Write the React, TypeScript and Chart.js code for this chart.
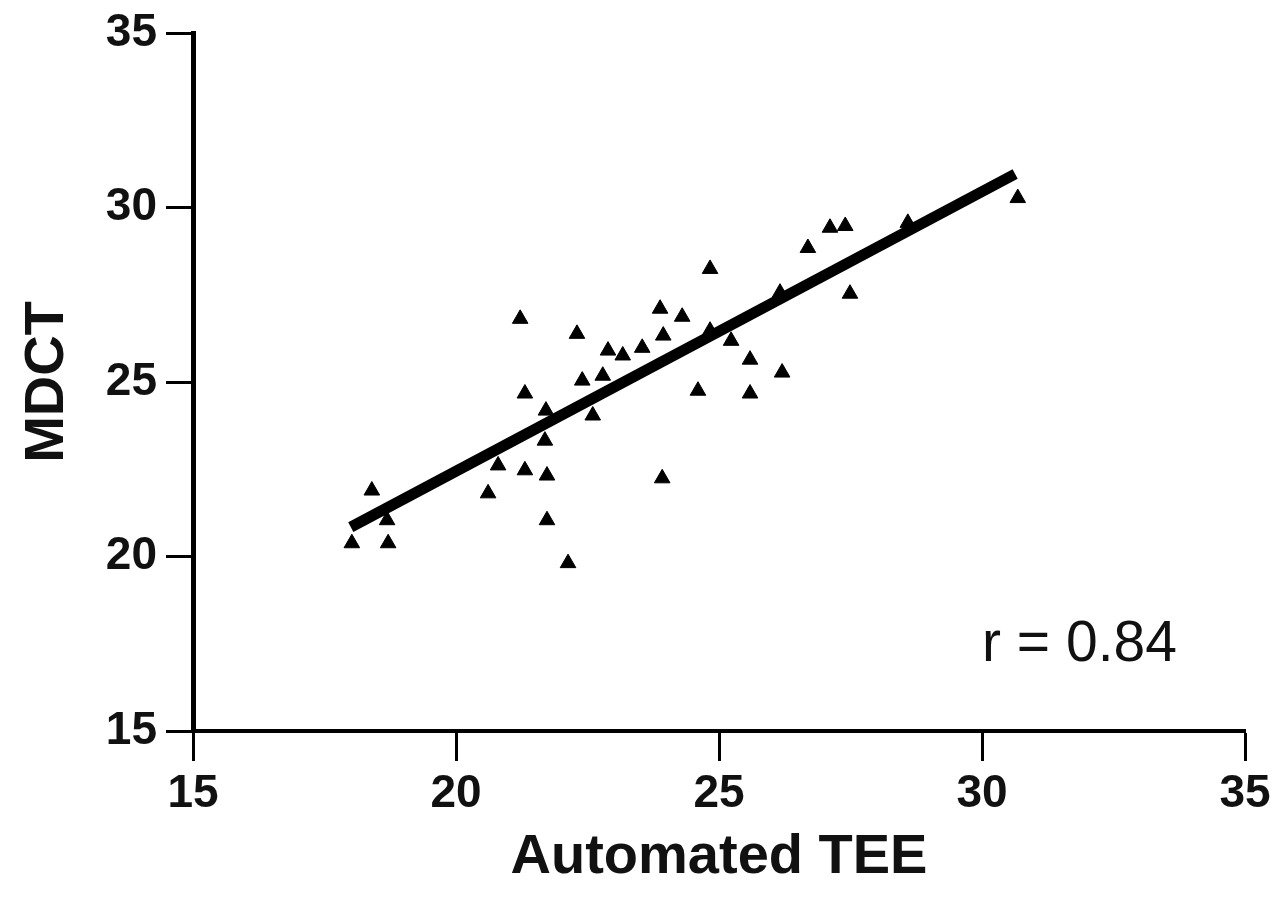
import React, { useEffect, useRef } from 'react';
import { Chart, registerables } from 'chart.js';

Chart.register(...registerables);

const teeX = [
  18.02, 18.4, 18.69, 18.71, 20.61, 20.8, 21.31, 21.22, 21.31, 21.71,
  21.69, 21.73, 21.73, 22.13, 22.3, 22.4, 22.6, 22.79, 22.89, 23.17,
  23.54, 23.88, 23.94, 23.92, 24.3, 24.6, 24.83, 24.83, 25.23, 25.59,
  25.59, 26.2, 26.16, 26.69, 27.11, 27.4, 27.49, 28.59, 30.68,
];
const mdctY = [
  20.38, 21.89, 21.04, 20.38, 21.81, 22.61, 22.47, 26.81, 24.67, 24.18,
  23.32, 22.32, 21.04, 19.81, 26.38, 25.04, 24.04, 25.18, 25.9, 25.76,
  25.98, 27.1, 26.33, 22.24, 26.87, 24.75, 28.24, 26.47, 26.18, 25.64,
  24.67, 25.27, 27.56, 28.84, 29.42, 29.47, 27.53, 29.56, 30.27,
];
const fitX = [18.0, 30.63];
const fitY = [20.84, 30.96];
const xTicks = [15, 20, 25, 30, 35];
const yTicks = [15, 20, 25, 30, 35];
const xTitle = 'Automated TEE';
const yTitle = 'MDCT';
const corrLabel = 'r = 0.84';
const corrPos = { x: 30.0, y: 17.46 };

const FONT = "'Liberation Sans', Arial, Helvetica, sans-serif";

const corrPlugin = {
  id: 'corrLabel',
  afterDatasetsDraw(chart: any) {
    const { ctx, scales } = chart;
    const px = scales.x.getPixelForValue(corrPos.x);
    const py = scales.y.getPixelForValue(corrPos.y);
    ctx.save();
    ctx.font = `normal 57px ${FONT}`;
    ctx.fillStyle = '#111';
    ctx.textAlign = 'left';
    ctx.textBaseline = 'middle';
    ctx.fillText(corrLabel, px, py);
    ctx.restore();
  },
};

export default function App() {
  const ref = useRef<HTMLCanvasElement | null>(null);

  useEffect(() => {
    document.body.style.margin = '0';
    const canvas = ref.current;
    if (!canvas) return;
    const chart = new Chart(canvas, {
      type: 'scatter',
      data: {
        datasets: [
          {
            type: 'line',
            label: 'fit',
            data: fitX.map((x, i) => ({ x, y: fitY[i] })),
            borderColor: '#000',
            borderWidth: 11,
            pointRadius: 0,
            fill: false,
            borderCapStyle: 'butt',
          } as any,
          {
            label: 'data',
            data: teeX.map((x, i) => ({ x, y: mdctY[i] })),
            pointStyle: 'triangle',
            pointRadius: 9,
            backgroundColor: '#000',
            borderColor: '#000',
            borderWidth: 1,
          },
        ],
      },
      options: {
        responsive: false,
        animation: false,
        devicePixelRatio: 1,
        layout: { padding: { top: 33, right: 43, left: 0, bottom: 0 } },
        plugins: {
          legend: { display: false },
          tooltip: { enabled: false },
        },
        scales: {
          x: {
            type: 'linear',
            min: 15,
            max: 35,
            afterBuildTicks: (scale: any) => {
              scale.ticks = xTicks.map((v) => ({ value: v }));
            },
            afterFit: (scale: any) => {
              scale.height = 180;
            },
            ticks: {
              color: '#111',
              font: { family: FONT, size: 46, weight: 'bold', lineHeight: 1 },
              padding: 10,
              maxRotation: 0,
            },
            grid: {
              drawOnChartArea: false,
              drawTicks: true,
              tickLength: 30,
              tickWidth: 3,
              tickColor: '#000',
            },
            border: { display: true, color: '#000', width: 4 },
            title: {
              display: true,
              text: xTitle,
              color: '#111',
              font: { family: FONT, size: 56, weight: 'bold', lineHeight: 1 },
              padding: { top: 0, bottom: 25 },
            },
          },
          y: {
            type: 'linear',
            min: 15,
            max: 35,
            afterBuildTicks: (scale: any) => {
              scale.ticks = yTicks.map((v) => ({ value: v }));
            },
            afterFit: (scale: any) => {
              scale.width = 193;
            },
            ticks: {
              color: '#111',
              font: { family: FONT, size: 46, weight: 'bold', lineHeight: 1 },
              padding: 9,
            },
            grid: {
              drawOnChartArea: false,
              drawTicks: true,
              tickLength: 27,
              tickWidth: 3,
              tickColor: '#000',
            },
            border: { display: true, color: '#000', width: 5 },
            title: {
              display: true,
              text: yTitle,
              color: '#111',
              font: { family: FONT, size: 56, weight: 'bold', lineHeight: 1 },
              padding: { top: 20, bottom: 0 },
            },
          },
        },
      } as any,
      plugins: [corrPlugin],
    });
    return () => chart.destroy();
  }, []);

  return (
    <div style={{ width: 1288, height: 911, background: '#fff' }}>
      <canvas ref={ref} width={1288} height={911} style={{ display: 'block' }} />
    </div>
  );
}
